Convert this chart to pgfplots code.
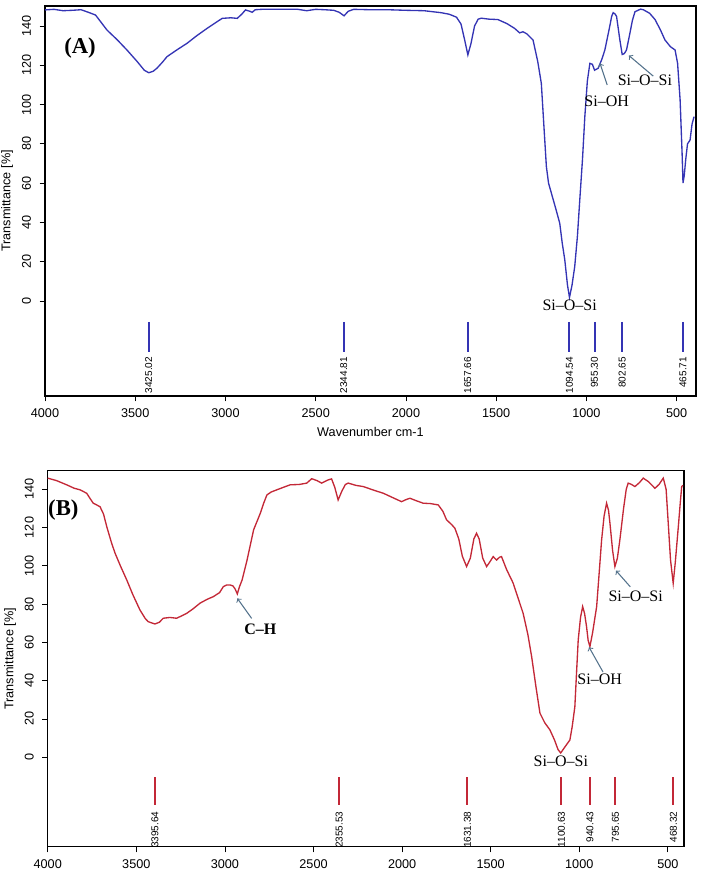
\documentclass[border=0pt]{standalone}
\usepackage{pgfplots}
\pgfplotsset{compat=1.18}
\usepackage{fontspec}
\setmainfont{Liberation Sans}
\newfontfamily\serifA[Ligatures=TeX]{Liberation Serif}
\definecolor{specblue}{RGB}{52,52,180}
\definecolor{specred}{RGB}{195,40,55}
\definecolor{arrowc}{RGB}{85,115,140}
\pgfplotsset{ftir/.style={
  scale only axis, x dir=reverse, tick pos=left, tick align=outside,
  major tick length=4pt,
  xtick={500,1000,...,4000}, ytick={0,20,...,140},
  ticklabel style={font=\fontsize{9.5}{10}\selectfont},
  yticklabel style={rotate=90, anchor=south},
  yticklabel shift=3pt, xticklabel shift=2pt,
  /pgf/number format/assume math mode=true,
  /pgf/number format/1000 sep={},
  axis line style={line width=0.8pt},
  every tick/.style={line width=0.6pt, black},
  label style={font=\fontsize{9.5}{10}\selectfont},
}}
\newcommand{\pk}[3]{\node[rotate=90, anchor=east, font=\fontsize{7.5}{7.5}\selectfont, inner sep=0pt] at (axis cs:#1,#2) {#3};}
\begin{document}
\begin{tikzpicture}
\useasboundingbox (0,0) rectangle (528pt,-654.75pt);
% ---------------- Panel A ----------------
\begin{axis}[ftir, at={(33.75pt,-4.5pt)}, anchor=north west,
  width=488.25pt, height=292.5pt,
  xmin=393, xmax=4000, ymin=-48.4, ymax=150.2,
  ylabel={Transmittance [\%]},
  ylabel style={at={(axis description cs:-0.0584,0.5)}, anchor=center},
  xlabel={Wavenumber cm-1},
  xlabel style={at={(axis description cs:0.5,-0.0923)}, anchor=center}]
\addplot[specblue, line width=1pt] coordinates {
(4000,148.2) (3950,148.5) (3900,147.8) (3850,148) (3800,148.3) (3760,147)
(3720,145.6) (3690,142) (3657,138) (3600,133) (3546,127.8) (3490,122)
(3450,117.5) (3425,116.2) (3400,117) (3380,118.5) (3350,121.5) (3324,124.4)
(3270,127.8) (3213,131.2) (3160,135) (3102,138.8) (3050,142) (3018,143.9)
(2970,144.2) (2935,143.9) (2910,146) (2889,148.2) (2865,147.5) (2852,147)
(2835,148.3) (2800,148.5) (2700,148.5) (2600,148.5) (2550,147.8) (2500,148.5)
(2450,148.3) (2400,148) (2370,147) (2343,145.2) (2320,147.5) (2290,148.5)
(2200,148.3) (2100,148.3) (2000,148) (1900,147.8) (1806,146.8) (1760,146)
(1720,144.5) (1695,141) (1675,133) (1657,125.3) (1640,131) (1620,140)
(1600,143.5) (1583,144) (1540,143.5) (1491,143.3) (1440,141.2) (1398,138.8)
(1370,136.5) (1352,137.1) (1330,136) (1296,132.9) (1270,122) (1250,110.8)
(1235,88) (1222,68.4) (1210,60) (1194,54.8) (1170,47) (1148,39.6)
(1135,30) (1120,20.9) (1105,8) (1094,1.8) (1080,8) (1065,17.5)
(1050,33) (1037,51.4) (1022,72) (1009,93.8) (995,112) (981,121)
(967,120.5) (955,117.5) (935,118.5) (915,123) (898,127.8) (875,138)
(860,145) (852,146.8) (840,146) (833,144.8) (815,133) (802,125.5)
(790,126) (778,127.8) (760,136) (745,143) (731,147.3) (700,148.6)
(685,148.3) (650,146.5) (620,143.3) (590,138) (565,132.9) (535,129.5)
(509,127.8) (495,121) (481,102.3) (470,75) (465,60) (458,64)
(450,72) (440,80) (426,81.9) (415,90) (405,93.5) (400,93.5)
};
\addplot[specblue, line width=1.5pt] coordinates {(3425.02,-10.7) (3425.02,-26)};
\addplot[specblue, line width=1.5pt] coordinates {(2344.81,-10.7) (2344.81,-26)};
\addplot[specblue, line width=1.5pt] coordinates {(1657.66,-10.7) (1657.66,-26)};
\addplot[specblue, line width=1.5pt] coordinates {(1094.54,-10.7) (1094.54,-26)};
\addplot[specblue, line width=1.5pt] coordinates {(955.30,-10.7) (955.30,-26)};
\addplot[specblue, line width=1.5pt] coordinates {(802.65,-10.7) (802.65,-26)};
\addplot[specblue, line width=1.5pt] coordinates {(465.71,-10.7) (465.71,-26)};
\pk{3425.02}{-28.4}{3425.02}
\pk{2344.81}{-28.4}{2344.81}
\pk{1657.66}{-28.4}{1657.66}
\pk{1094.54}{-28.4}{1094.54}
\pk{955.30}{-28.4}{955.30}
\pk{802.65}{-28.4}{802.65}
\pk{465.71}{-28.4}{465.71}
\node[font=\serifA\bfseries\fontsize{17}{17}\selectfont] at (axis cs:3806,128.7) {(A)};
\node[font=\serifA\fontsize{12}{12}\selectfont] at (axis cs:1093,-2) {Si–O–Si};
\node[font=\serifA\fontsize{12}{12}\selectfont] at (axis cs:888,101.8) {Si–OH};
\node[font=\serifA\fontsize{12}{12}\selectfont] at (axis cs:676,112.5) {Si–O–Si};
\draw[arrowc, line width=0.8pt, ->] (axis cs:885,110) -- (axis cs:925,121);
\draw[arrowc, line width=0.8pt, ->] (axis cs:630,114.5) -- (axis cs:765,125);
\end{axis}
% ---------------- Panel B ----------------
\begin{axis}[ftir, at={(35.8pt,-353pt)}, anchor=north west,
  width=477.2pt, height=282.2pt,
  xmin=409, xmax=4000, ymin=-46.9, ymax=149.7,
  ylabel={Transmittance [\%]},
  ylabel style={at={(axis description cs:-0.0593,0.5)}, anchor=center}]
\addplot[specred, line width=1pt] coordinates {
(4000,145.8) (3950,144.5) (3893,142.3) (3850,140.5) (3818,139.7) (3780,137.9)
(3760,135) (3743,132.7) (3705,130.9) (3685,127) (3667,120.5) (3640,112)
(3620,106.6) (3590,100) (3554,92.6) (3520,85) (3480,77) (3450,72.5)
(3433,70.8) (3395,69.6) (3370,70.5) (3348,72.6) (3310,73) (3273,72.6)
(3240,74) (3215,75.2) (3180,77.5) (3140,80.5) (3100,82.5) (3065,83.9)
(3030,86) (3009,89.1) (2990,90) (2971,90) (2955,89.5) (2943,88)
(2930,85.3) (2918,89) (2903,92.6) (2875,103) (2838,118.8) (2800,127.5)
(2780,133) (2763,137) (2740,138.5) (2707,139.7) (2670,141) (2632,142.3)
(2580,142.5) (2538,143.2) (2510,145.5) (2480,144.5) (2454,143.2) (2420,144.8)
(2398,145.4) (2380,141) (2361,134.4) (2340,139) (2320,142.5) (2304,143.2)
(2260,142) (2219,141.4) (2160,139.5) (2106,137.9) (2050,135.5) (2003,133.5)
(1980,134.5) (1956,135.3) (1920,134) (1881,132.7) (1840,132.5) (1796,131.8)
(1770,128.5) (1749,124) (1720,121.5) (1702,119.6) (1680,114) (1660,105)
(1636,99.6) (1615,104) (1595,114) (1580,117) (1565,114) (1545,104)
(1523,99.6) (1505,102) (1486,104.8) (1467,103) (1450,104.5) (1439,104.8)
(1410,98) (1373,90.9) (1345,83) (1317,75.2) (1290,64) (1269,52.6)
(1245,37) (1222,23) (1195,18) (1166,14.3) (1140,9) (1120,4)
(1105,2.2) (1080,5.5) (1053,9) (1040,16) (1025,26.4) (1015,45)
(1006,61.3) (993,73) (981,78.7) (970,75) (959,68.2) (950,61)
(940,57.8) (925,65) (902,78.7) (888,96) (874,113.5) (860,126)
(846,132.7) (835,129) (827,122.3) (812,108) (799,99.6) (785,104)
(771,113.5) (750,130) (735,140) (724,143.2) (705,142.5) (686,141.4)
(660,143.5) (639,145.8) (610,144) (573,140.5) (550,142.5) (526,145.8)
(510,140) (498,122.3) (485,103) (470,90.9) (458,102) (441,120.5)
(430,133) (422,141.4) (415,142)
};
\addplot[specred, line width=1.5pt] coordinates {(3395.64,-10.4) (3395.64,-25)};
\addplot[specred, line width=1.5pt] coordinates {(2355.53,-10.4) (2355.53,-25)};
\addplot[specred, line width=1.5pt] coordinates {(1631.38,-10.4) (1631.38,-25)};
\addplot[specred, line width=1.5pt] coordinates {(1100.63,-10.4) (1100.63,-25)};
\addplot[specred, line width=1.5pt] coordinates {(940.43,-10.4) (940.43,-25)};
\addplot[specred, line width=1.5pt] coordinates {(795.65,-10.4) (795.65,-25)};
\addplot[specred, line width=1.5pt] coordinates {(468.32,-10.4) (468.32,-25)};
\pk{3395.64}{-28.4}{3395.64}
\pk{2355.53}{-28.4}{2355.53}
\pk{1631.38}{-28.4}{1631.38}
\pk{1100.63}{-28.4}{1100.63}
\pk{940.43}{-28.4}{940.43}
\pk{795.65}{-28.4}{795.65}
\pk{468.32}{-28.4}{468.32}
\node[font=\serifA\bfseries\fontsize{17}{17}\selectfont] at (axis cs:3912,129.2) {(B)};
\node[font=\serifA\bfseries\fontsize{12}{12}\selectfont] at (axis cs:2800,66.9) {C–H};
\node[font=\serifA\fontsize{12}{12}\selectfont] at (axis cs:1104,-2.3) {Si–O–Si};
\node[font=\serifA\fontsize{12}{12}\selectfont] at (axis cs:885,40.8) {Si–OH};
\node[font=\serifA\fontsize{12}{12}\selectfont] at (axis cs:682,84.3) {Si–O–Si};
\draw[arrowc, line width=0.8pt, ->] (axis cs:2849,72.5) -- (axis cs:2930,83);
\draw[arrowc, line width=0.8pt, ->] (axis cs:866,44.5) -- (axis cs:945,57.5);
\draw[arrowc, line width=0.8pt, ->] (axis cs:712,89) -- (axis cs:793,97.5);
\end{axis}
\end{tikzpicture}
\end{document}
